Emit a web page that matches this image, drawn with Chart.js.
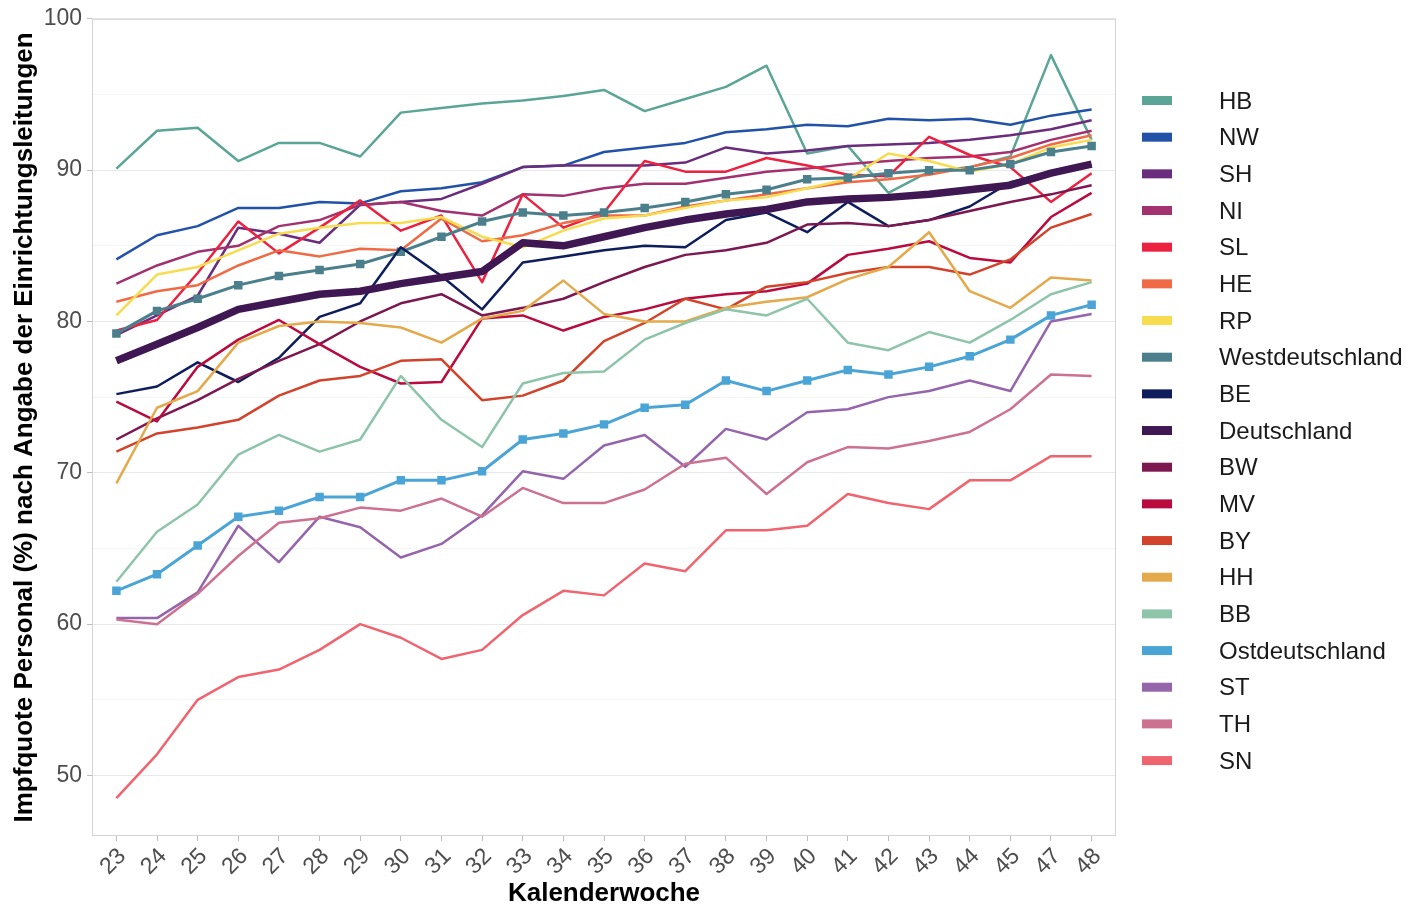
<!DOCTYPE html>
<html>
<head>
<meta charset="utf-8">
<script src="https://cdn.jsdelivr.net/npm/chart.js@4.4.1/dist/chart.umd.min.js"></script>
<style>
  html, body { margin: 0; padding: 0; background: #ffffff; }
  canvas { display: block; }
</style>
</head>
<body>
<canvas id="chart" width="1419" height="905"></canvas>
<script>
// Calendar weeks (week 46 is not reported)
const weeks = ['23','24','25','26','27','28','29','30','31','32','33','34','35','36','37','38','39','40','41','42','43','44','45','47','48'];
const yTicks = [50, 55, 60, 65, 70, 75, 80, 85, 90, 95, 100];

// Vaccination rate of staff (%) per state / region
const HB   = [90.1, 92.6, 92.8, 90.6, 91.8, 91.8, 90.9, 93.8, 94.1, 94.4, 94.6, 94.9, 95.3, 93.9, 94.7, 95.5, 96.9, 91.1, 91.6, 88.5, 89.9, 90.2, 90.9, 97.6, 92.0];
const NW   = [84.1, 85.7, 86.3, 87.5, 87.5, 87.9, 87.8, 88.6, 88.8, 89.2, 90.2, 90.3, 91.2, 91.5, 91.8, 92.5, 92.7, 93.0, 92.9, 93.4, 93.3, 93.4, 93.0, 93.6, 94.0];
const SH   = [79.1, 80.4, 81.7, 86.2, 85.8, 85.2, 87.7, 87.9, 88.1, 89.1, 90.2, 90.3, 90.3, 90.3, 90.5, 91.5, 91.1, 91.3, 91.6, 91.7, 91.8, 92.0, 92.3, 92.7, 93.3];
const NI   = [82.5, 83.7, 84.6, 85.0, 86.3, 86.7, 87.7, 87.9, 87.3, 87.0, 88.4, 88.3, 88.8, 89.1, 89.1, 89.5, 89.9, 90.1, 90.4, 90.6, 90.8, 90.9, 91.2, 92.0, 92.6];
const SL   = [79.4, 80.1, 83.2, 86.6, 84.5, 86.2, 88.0, 86.0, 87.0, 82.6, 88.4, 86.2, 87.2, 90.6, 89.9, 89.9, 90.8, 90.3, 89.7, 89.6, 92.2, 91.0, 90.2, 87.9, 89.8];
const HE   = [81.3, 82.0, 82.4, 83.7, 84.7, 84.3, 84.8, 84.7, 86.8, 85.3, 85.7, 86.5, 87.0, 87.0, 87.6, 88.0, 88.4, 88.8, 89.2, 89.4, 89.7, 90.2, 90.8, 91.7, 92.3];
const RP   = [80.4, 83.1, 83.6, 84.7, 85.8, 86.2, 86.5, 86.5, 86.9, 85.6, 84.9, 86.0, 86.8, 87.0, 87.5, 88.0, 88.2, 88.8, 89.4, 91.1, 90.6, 89.9, 90.4, 91.5, 92.0];
const West = [79.2, 80.7, 81.5, 82.4, 83.0, 83.4, 83.8, 84.6, 85.6, 86.6, 87.2, 87.0, 87.2, 87.5, 87.9, 88.4, 88.7, 89.4, 89.5, 89.8, 90.0, 90.0, 90.4, 91.2, 91.6];
const BE   = [75.2, 75.7, 77.3, 76.0, 77.6, 80.3, 81.2, 84.9, 83.0, 80.8, 83.9, 84.3, 84.7, 85.0, 84.9, 86.7, 87.2, 85.9, 87.9, 86.3, 86.7, 87.6, 89.2, 89.9, 90.3];
const DE   = [77.4, 78.5, 79.6, 80.8, 81.3, 81.8, 82.0, 82.5, 82.9, 83.3, 85.2, 85.0, 85.6, 86.2, 86.7, 87.1, 87.4, 87.9, 88.1, 88.2, 88.4, 88.7, 89.0, 89.8, 90.4];
const BW   = [72.2, 73.6, 74.8, 76.2, 77.4, 78.5, 80.0, 81.2, 81.8, 80.4, 80.9, 81.5, 82.6, 83.6, 84.4, 84.7, 85.2, 86.4, 86.5, 86.3, 86.7, 87.3, 87.9, 88.4, 89.0];
const MV   = [74.7, 73.4, 77.0, 78.8, 80.1, 78.5, 77.0, 75.9, 76.0, 80.2, 80.4, 79.4, 80.3, 80.8, 81.5, 81.8, 82.0, 82.5, 84.4, 84.8, 85.3, 84.2, 83.9, 86.9, 88.5];
const BY   = [71.4, 72.6, 73.0, 73.5, 75.1, 76.1, 76.4, 77.4, 77.5, 74.8, 75.1, 76.1, 78.7, 79.9, 81.5, 80.8, 82.3, 82.6, 83.2, 83.6, 83.6, 83.1, 84.1, 86.2, 87.1];
const HH   = [69.3, 74.3, 75.4, 78.6, 79.7, 80.0, 79.9, 79.6, 78.6, 80.2, 80.7, 82.7, 80.5, 80.0, 80.0, 80.9, 81.3, 81.6, 82.8, 83.6, 85.9, 82.0, 80.9, 82.9, 82.7];
const BB   = [62.8, 66.1, 67.9, 71.2, 72.5, 71.4, 72.2, 76.4, 73.5, 71.7, 75.9, 76.6, 76.7, 78.8, 79.9, 80.8, 80.4, 81.5, 78.6, 78.1, 79.3, 78.6, 80.1, 81.8, 82.6];
const Ost  = [62.2, 63.3, 65.2, 67.1, 67.5, 68.4, 68.4, 69.5, 69.5, 70.1, 72.2, 72.6, 73.2, 74.3, 74.5, 76.1, 75.4, 76.1, 76.8, 76.5, 77.0, 77.7, 78.8, 80.4, 81.1];
const ST   = [60.4, 60.4, 62.1, 66.5, 64.1, 67.1, 66.4, 64.4, 65.3, 67.2, 70.1, 69.6, 71.8, 72.5, 70.4, 72.9, 72.2, 74.0, 74.2, 75.0, 75.4, 76.1, 75.4, 80.0, 80.5];
const TH   = [60.3, 60.0, 62.0, 64.5, 66.7, 67.0, 67.7, 67.5, 68.3, 67.1, 69.0, 68.0, 68.0, 68.9, 70.6, 71.0, 68.6, 70.7, 71.7, 71.6, 72.1, 72.7, 74.2, 76.5, 76.4];
const SN   = [48.5, 51.4, 55.0, 56.5, 57.0, 58.3, 60.0, 59.1, 57.7, 58.3, 60.6, 62.2, 61.9, 64.0, 63.5, 66.2, 66.2, 66.5, 68.6, 68.0, 67.6, 69.5, 69.5, 71.1, 71.1];

const seriesNames  = ['HB','NW','SH','NI','SL','HE','RP','Westdeutschland','BE','Deutschland','BW','MV','BY','HH','BB','Ostdeutschland','ST','TH','SN'];
const seriesValues = [HB, NW, SH, NI, SL, HE, RP, West, BE, DE, BW, MV, BY, HH, BB, Ost, ST, TH, SN];
const seriesColors = ['#5ba596','#2251a8','#6a2c7d','#a2316f','#ec2140','#f06a45','#f7dc4f','#4b7f8b','#0e1d5c','#3f1753',
                      '#7d1750','#b90b3e','#d2432b','#e3a94b','#8dc4aa','#4aa5d6','#9465ab','#cc7290','#f0646f'];

const FONT = '"Liberation Sans", Arial, Helvetica, sans-serif';
Chart.defaults.font.family = FONT;

const datasets = seriesNames.map((name, i) => {
  const isAggregate = name === 'Westdeutschland' || name === 'Ostdeutschland';
  const isNational = name === 'Deutschland';
  return {
    label: name,
    data: seriesValues[i].map((v, k) => ({ x: k, y: v })),
    borderColor: seriesColors[i],
    backgroundColor: seriesColors[i],
    borderWidth: isNational ? 7.5 : (isAggregate ? 3 : 2.5),
    borderJoinStyle: 'round',
    tension: 0,
    fill: false,
    pointStyle: 'rect',
    pointRadius: isAggregate ? 6 : 0,
    pointBorderWidth: 0,
    pointBackgroundColor: seriesColors[i],
    order: seriesNames.length - i
  };
});

// Light frame around the plotting panel
const panelFrame = {
  id: 'panelFrame',
  beforeDatasetsDraw(chart) {
    const { ctx, chartArea: a } = chart;
    ctx.save();
    ctx.strokeStyle = '#d4d4d4';
    ctx.lineWidth = 1;
    ctx.strokeRect(a.left + 0.5, a.top + 0.5, a.right - a.left - 1, a.bottom - a.top - 1);
    ctx.restore();
  }
};

// Key list to the right of the panel
const sideLegend = {
  id: 'sideLegend',
  afterDraw(chart) {
    const { ctx, chartArea: a } = chart;
    const keyX = a.right + 26;
    const textX = a.right + 103;
    const startY = 101;
    const step = 36.67;
    ctx.save();
    ctx.font = '24px ' + FONT;
    ctx.textBaseline = 'middle';
    ctx.textAlign = 'left';
    chart.data.datasets.forEach((ds, i) => {
      const y = startY + i * step;
      ctx.fillStyle = ds.borderColor;
      ctx.fillRect(keyX, y - 5, 30, 9);
      ctx.fillStyle = '#1a1a1a';
      ctx.fillText(ds.label, textX, y + 1);
    });
    ctx.restore();
  }
};

new Chart(document.getElementById('chart'), {
  type: 'line',
  data: { datasets },
  plugins: [panelFrame, sideLegend],
  options: {
    responsive: false,
    animation: false,
    devicePixelRatio: 1,
    layout: { padding: { left: 0, right: 303, top: 16, bottom: 0 } },
    plugins: {
      legend: { display: false },
      tooltip: { enabled: false }
    },
    scales: {
      x: {
        type: 'linear',
        min: -0.6,
        max: 24.6,
        afterBuildTicks: s => { s.ticks = weeks.map((w, i) => ({ value: i })); },
        afterFit: s => { s.height = 69; },
        ticks: {
          autoSkip: false,
          minRotation: 45,
          maxRotation: 45,
          callback: v => weeks[v],
          font: { size: 23 },
          color: '#4d4d4d',
          padding: 2,
          labelOffset: 6
        },
        grid: { drawOnChartArea: false, tickLength: 5, tickColor: '#bdbdbd' },
        border: { display: false },
        title: {
          display: true,
          text: 'Kalenderwoche',
          color: '#000000',
          font: { size: 26, weight: 'bold', lineHeight: 0.85 },
          padding: { top: 0, bottom: 0 }
        }
      },
      y: {
        min: 46,
        max: 100,
        afterBuildTicks: s => { s.ticks = yTicks.map(v => ({ value: v })); },
        afterFit: s => { s.width = 92; },
        ticks: {
          callback: v => (v % 10 === 0 ? String(v) : ''),
          font: { size: 23 },
          color: '#4d4d4d',
          padding: 5
        },
        grid: {
          color: c => (c.tick && c.tick.value % 10 === 0 ? '#e9e9e9' : '#f5f5f5'),
          lineWidth: 1,
          tickLength: 5,
          tickColor: c => (c.tick && c.tick.value % 10 === 0 ? '#bdbdbd' : 'rgba(0,0,0,0)')
        },
        border: { display: false },
        title: {
          display: true,
          text: 'Impfquote Personal (%) nach Angabe der Einrichtungsleitungen',
          color: '#000000',
          font: { size: 26, weight: 'bold' },
          padding: { top: 9, bottom: 0 }
        }
      }
    }
  }
});
</script>
</body>
</html>
